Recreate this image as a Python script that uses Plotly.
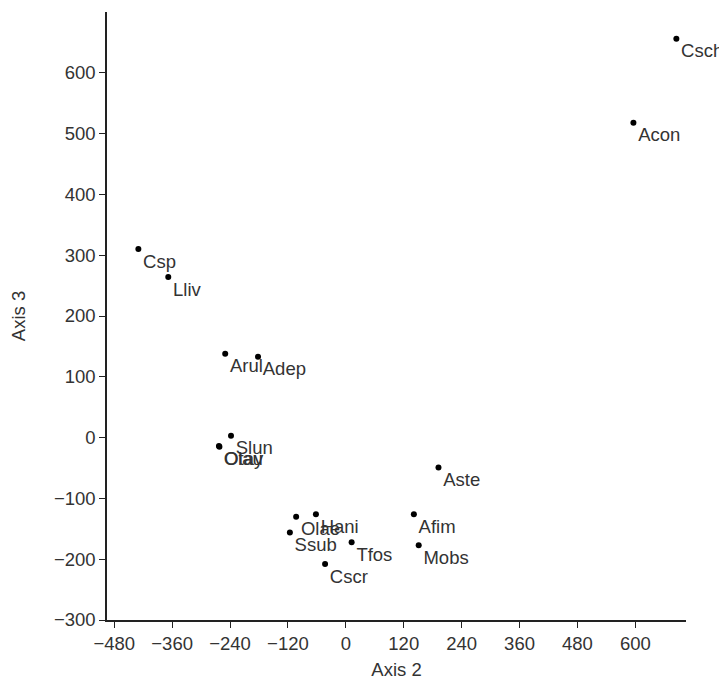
import plotly.graph_objects as go

labels = ["Csch", "Acon", "Csp", "Lliv", "Arul", "Adep", "Slun", "Olau", "Otay",
          "Aste", "Olae", "Hani", "Afim", "Ssub", "Tfos", "Mobs", "Cscr"]
axis2 = [685, 596, -430, -368, -250, -182, -238, -263, -262,
         192, -103, -62, 141, -116, 12, 151, -43]
axis3 = [656, 518, 310, 264, 138, 133, 3, -14, -15,
         -49, -130, -126, -126, -156, -172, -177, -208]

x_ticks = [-480, -360, -240, -120, 0, 120, 240, 360, 480, 600]
y_ticks = [-300, -200, -100, 0, 100, 200, 300, 400, 500, 600]

FONT = "Liberation Sans, Arial"

fig = go.Figure(go.Scatter(
    x=axis2, y=axis3, mode="markers+text", text=labels,
    textposition="bottom right",
    marker=dict(color="black", size=6),
    textfont=dict(family=FONT, size=18.5, color="#333333"),
    cliponaxis=False, hoverinfo="skip"))

axis_common = dict(showgrid=False, zeroline=False, showline=True, linecolor="#222222",
                   linewidth=1.5, ticks="outside", ticklen=6, tickcolor="#222222",
                   tickfont=dict(family=FONT, size=18.5, color="#333333"),
                   title_font=dict(family=FONT, size=18.5, color="#333333"))

fig.update_layout(
    width=727, height=681, plot_bgcolor="white", paper_bgcolor="white",
    margin=dict(l=99, r=49, t=4, b=69), showlegend=False,
    xaxis=dict(range=[-495, 705], tickvals=x_ticks, title_text="Axis 2",
               title_standoff=10, **axis_common),
    yaxis=dict(range=[-300, 700], tickvals=y_ticks, title_text="Axis 3",
               title_standoff=28, **axis_common),
)
fig.write_html("out.html")
